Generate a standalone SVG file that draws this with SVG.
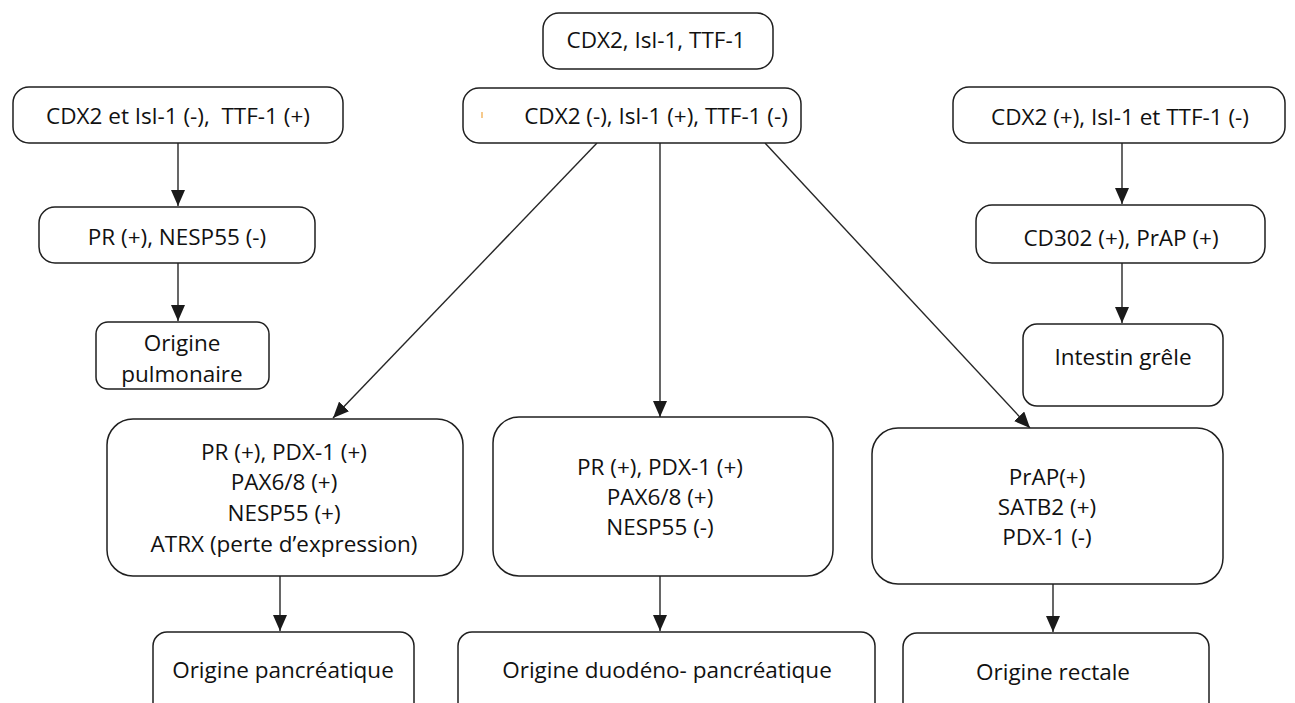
<svg xmlns="http://www.w3.org/2000/svg" width="1295" height="703" viewBox="0 0 1295 703">
  <style>
    .box { fill: #ffffff; stroke: #1f1f1f; stroke-width: 1.5; }
    .lbl { font-family: "Open Sans", "Liberation Sans", sans-serif; font-size: 22.5px; fill: #111111; text-anchor: middle; }
    .edge { stroke: #262626; stroke-width: 1.4; fill: none; marker-end: url(#arrow); }
  </style>
  <defs>
    <marker id="arrow" markerUnits="userSpaceOnUse" markerWidth="16" markerHeight="14" refX="16" refY="7" orient="auto">
      <path d="M0,0 L16,7 L0,14 Z" fill="#1a1a1a"/>
    </marker>
  </defs>
  <rect width="1295" height="703" fill="#ffffff"/>

  <!-- connectors -->
  <g id="connectors">
    <line class="edge" x1="178" y1="143" x2="178" y2="206"/>
    <line class="edge" x1="178" y1="263" x2="178" y2="321"/>
    <line class="edge" x1="1122" y1="143" x2="1122" y2="204"/>
    <line class="edge" x1="1122" y1="263" x2="1122" y2="323"/>
    <line class="edge" x1="597" y1="143" x2="333" y2="418"/>
    <line class="edge" x1="660" y1="143" x2="660" y2="417"/>
    <line class="edge" x1="765" y1="143" x2="1030" y2="428"/>
    <line class="edge" x1="280" y1="576" x2="280" y2="631"/>
    <line class="edge" x1="660" y1="576" x2="660" y2="631"/>
    <line class="edge" x1="1053" y1="584" x2="1053" y2="632"/>
  </g>

  <!-- root marker panel -->
  <g id="n-root">
    <rect class="box" x="543" y="13" width="230" height="56" rx="16"/>
    <text class="lbl" x="656" y="48">CDX2, Isl-1, TTF-1</text>
  </g>

  <g id="n-pulm-1">
    <rect class="box" x="13" y="87" width="330" height="56" rx="16"/>
    <text class="lbl" x="178" y="124">CDX2 et Isl-1 (-),&#160; TTF-1 (+)</text>
  </g>

  <g id="n-panc-1">
    <rect class="box" x="463" y="88" width="338" height="55" rx="16"/>
    <line x1="482" y1="112" x2="482" y2="118" stroke="#f0a640" stroke-width="1.2"/>
    <text class="lbl" x="656" y="124">CDX2 (-), Isl-1 (+), TTF-1 (-)</text>
  </g>

  <g id="n-int-1">
    <rect class="box" x="953" y="87" width="332" height="56" rx="16"/>
    <text class="lbl" x="1120" y="125">CDX2 (+), Isl-1 et TTF-1 (-)</text>
  </g>

  <g id="n-pulm-2">
    <rect class="box" x="39" y="207" width="276" height="56" rx="16"/>
    <text class="lbl" x="177" y="245">PR (+), NESP55 (-)</text>
  </g>

  <g id="n-int-2">
    <rect class="box" x="976" y="205" width="289" height="58" rx="16"/>
    <text class="lbl" x="1121" y="246">CD302 (+), PrAP (+)</text>
  </g>

  <g id="n-pulm-out">
    <rect class="box" x="96" y="322" width="173" height="67" rx="12"/>
    <text class="lbl" x="182" y="351">Origine</text>
    <text class="lbl" x="182" y="382">pulmonaire</text>
  </g>

  <g id="n-int-out">
    <rect class="box" x="1023" y="324" width="200" height="82" rx="14"/>
    <text class="lbl" x="1123" y="365">Intestin grêle</text>
  </g>

  <g id="n-panc-2">
    <rect class="box" x="107" y="419" width="356" height="157" rx="26"/>
    <text class="lbl" x="284" y="460">PR (+), PDX-1 (+)</text>
    <text class="lbl" x="284" y="490">PAX6/8 (+)</text>
    <text class="lbl" x="284" y="521">NESP55 (+)</text>
    <text class="lbl" x="284" y="552">ATRX (perte d’expression)</text>
  </g>

  <g id="n-duod-2">
    <rect class="box" x="493" y="417" width="340" height="159" rx="26"/>
    <text class="lbl" x="660" y="475">PR (+), PDX-1 (+)</text>
    <text class="lbl" x="660" y="505">PAX6/8 (+)</text>
    <text class="lbl" x="660" y="535">NESP55 (-)</text>
  </g>

  <g id="n-rect-2">
    <rect class="box" x="872" y="428" width="351" height="156" rx="26"/>
    <text class="lbl" x="1047" y="485">PrAP(+)</text>
    <text class="lbl" x="1047" y="515">SATB2 (+)</text>
    <text class="lbl" x="1047" y="545">PDX-1 (-)</text>
  </g>

  <g id="n-panc-out">
    <rect class="box" x="153" y="632" width="261" height="90" rx="14"/>
    <text class="lbl" x="283" y="678">Origine pancréatique</text>
  </g>

  <g id="n-duod-out">
    <rect class="box" x="458" y="632" width="417" height="90" rx="14"/>
    <text class="lbl" x="667" y="678">Origine duodéno- pancréatique</text>
  </g>

  <g id="n-rect-out">
    <rect class="box" x="903" y="633" width="306" height="90" rx="14"/>
    <text class="lbl" x="1053" y="680">Origine rectale</text>
  </g>
</svg>
